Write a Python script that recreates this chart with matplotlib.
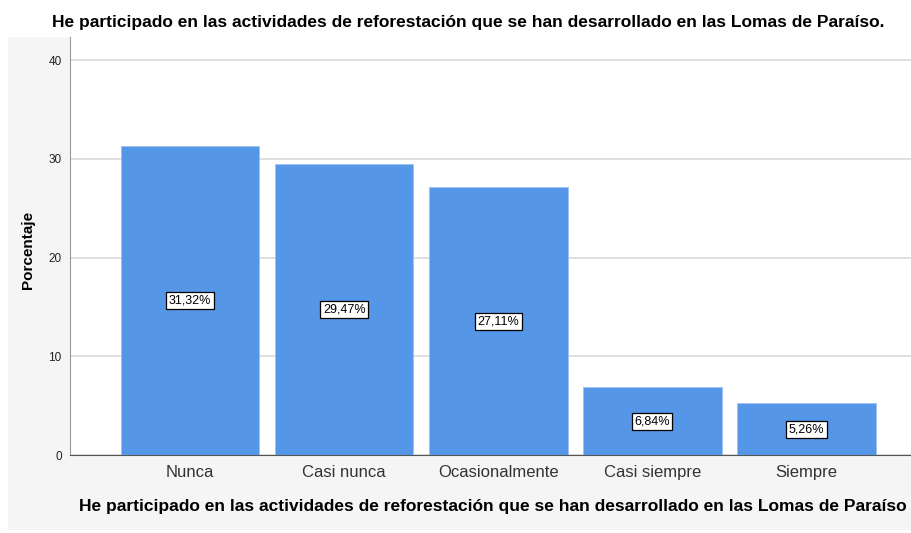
import matplotlib
matplotlib.use("Agg")
import matplotlib.pyplot as plt
from matplotlib.patches import Rectangle

categories = ["Nunca", "Casi nunca", "Ocasionalmente", "Casi siempre", "Siempre"]
percent = [31.32, 29.47, 27.11, 6.84, 5.26]
pct_labels = ["31,32%", "29,47%", "27,11%", "6,84%", "5,26%"]
yticks = [0, 10, 20, 30, 40]

TITLE = "He participado en las actividades de reforestación que se han desarrollado en las Lomas de Paraíso."
XLABEL = "He participado en las actividades de reforestación que se han desarrollado en las Lomas de Paraíso"

plt.rcParams["font.family"] = ["Liberation Sans", "DejaVu Sans"]

fig = plt.figure(figsize=(9.11, 5.33), dpi=100)
fig.patch.set_facecolor("white")
# light grey chart panel behind the axes
fig.patches.append(Rectangle((8 / 911, 3 / 533), 1 - 8 / 911, (530 - 37) / 533,
                             transform=fig.transFigure, facecolor="#f5f5f5",
                             edgecolor="none", zorder=-5))

ax = fig.add_axes([70 / 911, 78 / 533, 1 - 70 / 911, (455 - 37) / 533])
ax.set_zorder(1)
ax.set_facecolor("white")
x = list(range(len(categories)))
ax.bar(x, percent, width=0.9, color="#5596e6", edgecolor="#9cc2f0", linewidth=0.6, zorder=3)

for xi, v, lab in zip(x, percent, pct_labels):
    ax.text(xi, v / 2, lab, ha="center", va="center", fontsize=9, zorder=4,
            bbox=dict(boxstyle="square,pad=0.2", facecolor="white", edgecolor="black", linewidth=0.9))

ax.set_xlim(-0.78, 4.68)
ax.set_ylim(0, 42.33)
ax.set_yticks(yticks)
ax.set_xticks(x)
ax.set_xticklabels(categories, fontsize=12, color="#333333")
ax.tick_params(axis="y", length=0, pad=6, labelsize=8.5, labelcolor="#222222")
ax.tick_params(axis="x", length=0, pad=7)
ax.yaxis.grid(True, color="#d9d9d9", linewidth=1.2, zorder=0)
ax.set_axisbelow(True)

for s in ["top", "right"]:
    ax.spines[s].set_visible(False)
ax.spines["left"].set_color("#9a9a9a")
ax.spines["bottom"].set_color("#555555")

fig.text(468 / 911, 1 - 22 / 533, TITLE, ha="center", va="center", fontsize=12.5, fontweight="bold")
fig.text(493 / 911, 1 - 507 / 533, XLABEL, ha="center", va="center", fontsize=12.5, fontweight="bold")
fig.text(28 / 911, 1 - 250 / 533, "Porcentaje", ha="center", va="center", rotation=90,
         fontsize=11, fontweight="bold")

fig.savefig("out.png", dpi=100)
